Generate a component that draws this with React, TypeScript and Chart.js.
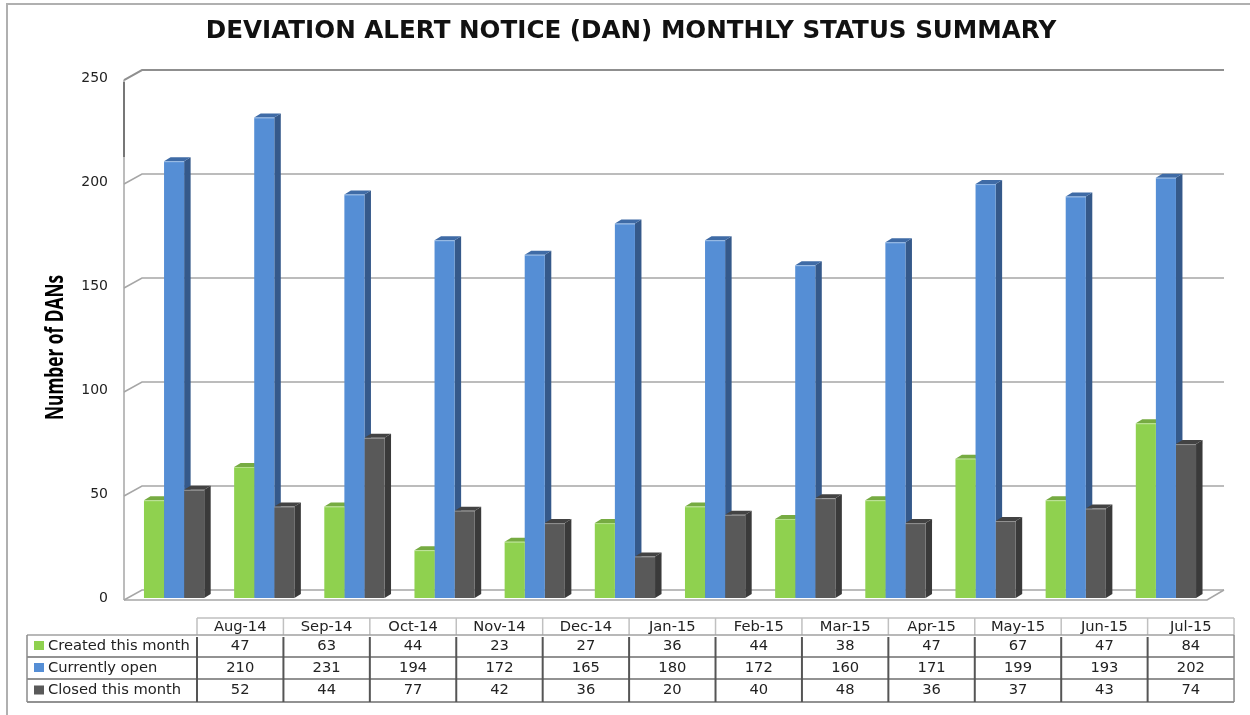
import React, { useEffect, useRef } from "react";
import { Chart, registerables } from "chart.js";

Chart.register(...registerables);

const categories = ["Aug-14","Sep-14","Oct-14","Nov-14","Dec-14","Jan-15","Feb-15","Mar-15","Apr-15","May-15","Jun-15","Jul-15"];
const createdThisMonth = [47,63,44,23,27,36,44,38,47,67,47,84];
const currentlyOpen = [210,231,194,172,165,180,172,160,171,199,193,202];
const closedThisMonth = [52,44,77,42,36,20,40,48,36,37,43,74];
const seriesNames = ["Created this month","Currently open","Closed this month"];
const frontColors = ["#8fd14f","#558ed5","#595959"];
const sideColors = ["#6d9f3c","#35598a","#3a3a3a"];
const topColors = ["#76ab42","#3f6ba6","#434343"];
const chartTitle = "DEVIATION ALERT NOTICE (DAN) MONTHLY STATUS SUMMARY";
const yAxisTitle = "Number of DANs";

const DX = 6.5, DY = 4;
const WALL_DX = 18, WALL_DY = -8;

const wallPlugin = {
  id: "wall3d",
  afterLayout(chart: any) {
    // centre the title on the picture's title position
    chart.titleBlock.right = 1262;
  },
  beforeDatasetsDraw(chart: any) {
    const ctx = chart.ctx;
    const y = chart.scales.y;
    const left = 124, right = 1224;
    ctx.save();
    for (const v of y.ticks.map((t: any) => t.value)) {
      const py = y.getPixelForValue(v);
      ctx.strokeStyle = v === 250 ? "#8f8f8f" : "#a6a6a6";
      ctx.lineWidth = v === 250 ? 2 : 1.5;
      ctx.beginPath();
      ctx.moveTo(left, py + 2);
      ctx.lineTo(left + WALL_DX, py + WALL_DY);
      ctx.lineTo(right, py + WALL_DY);
      ctx.stroke();
    }
    ctx.strokeStyle = "#a6a6a6";
    ctx.lineWidth = 1.5;
    ctx.beginPath();
    ctx.moveTo(left, y.getPixelForValue(250) + 2);
    ctx.lineTo(left, y.getPixelForValue(0) + 2);
    ctx.stroke();
    ctx.strokeStyle = "#777777";
    ctx.lineWidth = 2;
    ctx.beginPath();
    ctx.moveTo(left, y.getPixelForValue(250) + 4);
    ctx.lineTo(left, y.getPixelForValue(212));
    ctx.stroke();
    ctx.strokeStyle = "#a6a6a6";
    ctx.lineWidth = 1.5;
    const p0 = y.getPixelForValue(0);
    ctx.beginPath();
    ctx.moveTo(left, p0 + 2);
    ctx.lineTo(1207, p0 + 2);
    ctx.lineTo(right, p0 + WALL_DY);
    ctx.stroke();

    chart.data.datasets.forEach((_: any, di: number) => {
      const meta = chart.getDatasetMeta(di);
      meta.data.forEach((bar: any) => {
        const l = bar.x - bar.width / 2, r = bar.x + bar.width / 2;
        ctx.fillStyle = sideColors[di];
        ctx.beginPath();
        ctx.moveTo(r, bar.y);
        ctx.lineTo(r + DX, bar.y - DY);
        ctx.lineTo(r + DX, bar.base - DY);
        ctx.lineTo(r, bar.base);
        ctx.closePath();
        ctx.fill();
        ctx.fillStyle = topColors[di];
        ctx.beginPath();
        ctx.moveTo(l, bar.y);
        ctx.lineTo(l + DX, bar.y - DY);
        ctx.lineTo(r + DX, bar.y - DY);
        ctx.lineTo(r, bar.y);
        ctx.closePath();
        ctx.fill();
      });
    });
    ctx.restore();
  },
  afterDatasetsDraw(chart: any) {
    const ctx = chart.ctx;
    ctx.save();
    ctx.strokeStyle = "rgba(255,255,255,0.35)";
    ctx.lineWidth = 1;
    chart.data.datasets.forEach((_: any, di: number) => {
      chart.getDatasetMeta(di).data.forEach((bar: any) => {
        ctx.beginPath();
        ctx.moveTo(bar.x - bar.width / 2, bar.y + 0.5);
        ctx.lineTo(bar.x + bar.width / 2, bar.y + 0.5);
        ctx.stroke();
      });
    });
    ctx.restore();
  },
};

const axisTitlePlugin = {
  id: "axisTitleCondensed",
  afterDraw(chart: any) {
    const ctx = chart.ctx;
    ctx.save();
    ctx.translate(56, 347.5);
    ctx.rotate(-Math.PI / 2);
    ctx.font = "bold 25px 'Open Sans'";
    ctx.scale(145 / ctx.measureText(yAxisTitle).width, 1);
    ctx.fillStyle = "#000";
    ctx.textAlign = "center";
    ctx.textBaseline = "middle";
    ctx.fillText(yAxisTitle, 0, 0);
    ctx.restore();
  },
};

const TABLE_LEFT = 27, COL_LEFT = 197, COL_W = 86.42;
const ROW_Y = [618, 635, 657, 679, 702];
const tableValues = [createdThisMonth, currentlyOpen, closedThisMonth];

const tablePlugin = {
  id: "dataTable",
  afterDraw(chart: any) {
    const ctx = chart.ctx;
    const right = COL_LEFT + COL_W * categories.length;
    ctx.save();
    ctx.lineWidth = 1.5;
    ctx.strokeStyle = "#c0c0c0";
    ctx.beginPath();
    ctx.moveTo(COL_LEFT, ROW_Y[0]);
    ctx.lineTo(right, ROW_Y[0]);
    for (let c = 0; c <= categories.length; c++) {
      const x = COL_LEFT + c * COL_W;
      ctx.moveTo(x, ROW_Y[0]);
      ctx.lineTo(x, ROW_Y[1]);
    }
    ctx.stroke();
    ctx.strokeStyle = "#a0a0a0";
    ctx.beginPath();
    ctx.moveTo(TABLE_LEFT, ROW_Y[1]);
    ctx.lineTo(right, ROW_Y[1]);
    ctx.stroke();
    ctx.strokeStyle = "#6e6e6e";
    for (let r = 2; r < ROW_Y.length; r++) {
      ctx.beginPath();
      ctx.moveTo(TABLE_LEFT, ROW_Y[r]);
      ctx.lineTo(right, ROW_Y[r]);
      ctx.stroke();
    }
    ctx.strokeStyle = "#8a8a8a";
    ctx.beginPath();
    ctx.moveTo(TABLE_LEFT, ROW_Y[1]);
    ctx.lineTo(TABLE_LEFT, ROW_Y[4]);
    ctx.moveTo(right, ROW_Y[1]);
    ctx.lineTo(right, ROW_Y[4]);
    ctx.stroke();
    ctx.strokeStyle = "#555555";
    ctx.lineWidth = 2;
    for (let c = 0; c < categories.length; c++) {
      const x = COL_LEFT + c * COL_W;
      ctx.beginPath();
      ctx.moveTo(x, ROW_Y[1] + 2);
      ctx.lineTo(x, ROW_Y[4]);
      ctx.stroke();
    }
    ctx.fillStyle = "#222";
    ctx.font = "14.7px 'DejaVu Sans'";
    ctx.textBaseline = "middle";
    ctx.textAlign = "center";
    categories.forEach((c, i) => ctx.fillText(c, COL_LEFT + (i + 0.5) * COL_W, (ROW_Y[0] + ROW_Y[1]) / 2 + 0.5));
    tableValues.forEach((vals, r) => {
      const cy = (ROW_Y[r + 1] + ROW_Y[r + 2]) / 2;
      vals.forEach((v, i) => ctx.fillText(String(v), COL_LEFT + (i + 0.5) * COL_W, cy));
    });
    ctx.textAlign = "left";
    seriesNames.forEach((name, r) => {
      const cy = (ROW_Y[r + 1] + ROW_Y[r + 2]) / 2;
      ctx.fillStyle = frontColors[r];
      ctx.fillRect(34, cy - 5, 10, 9);
      ctx.fillStyle = "#222";
      ctx.fillText(name, 48, cy);
    });
    ctx.restore();
  },
};

export default function App() {
  const ref = useRef<HTMLCanvasElement>(null);
  useEffect(() => {
    const chart = new Chart(ref.current!, {
      type: "bar",
      data: {
        labels: categories,
        datasets: [
          { label: seriesNames[0], data: createdThisMonth, backgroundColor: frontColors[0] },
          { label: seriesNames[1], data: currentlyOpen, backgroundColor: frontColors[1] },
          { label: seriesNames[2], data: closedThisMonth, backgroundColor: frontColors[2] },
        ],
      },
      options: {
        responsive: false,
        animation: false,
        layout: { padding: { left: 0, right: 39, top: 0, bottom: 117 } },
        datasets: { bar: { barPercentage: 1, categoryPercentage: 0.668 } },
        plugins: {
          legend: { display: false },
          tooltip: { enabled: false },
          title: {
            display: true,
            text: chartTitle,
            color: "#111",
            font: { family: "'DejaVu Sans'", size: 24.6, weight: "bold" },
            padding: { top: 17, bottom: 31.5 },
          },
        },
        scales: {
          x: {
            grid: { display: false },
            border: { display: false },
            ticks: { display: false },
            afterFit(s: any) { s.height = 0; },
          },
          y: {
            min: 0,
            max: 250,
            grid: { display: false, drawTicks: false },
            border: { display: false },
            ticks: {
              stepSize: 50,
              padding: 21,
              color: "#222",
              font: { family: "'DejaVu Sans'", size: 14 },
            },
            afterFit(s: any) { s.width = 129; },
          },
        },
      } as any,
      plugins: [wallPlugin, axisTitlePlugin, tablePlugin],
    });
    return () => chart.destroy();
  }, []);
  return (
    <div style={{ position: "absolute", left: 0, top: 0, width: 1250, height: 715, background: "#fff" }}>
      <canvas ref={ref} width={1250} height={715} style={{ display: "block" }} />
      <div style={{ position: "absolute", left: 6, top: 3, width: 2, height: 712, background: "#b0b0b0" }} />
      <div style={{ position: "absolute", left: 6, top: 3, width: 1244, height: 2, background: "#b0b0b0" }} />
    </div>
  );
}
